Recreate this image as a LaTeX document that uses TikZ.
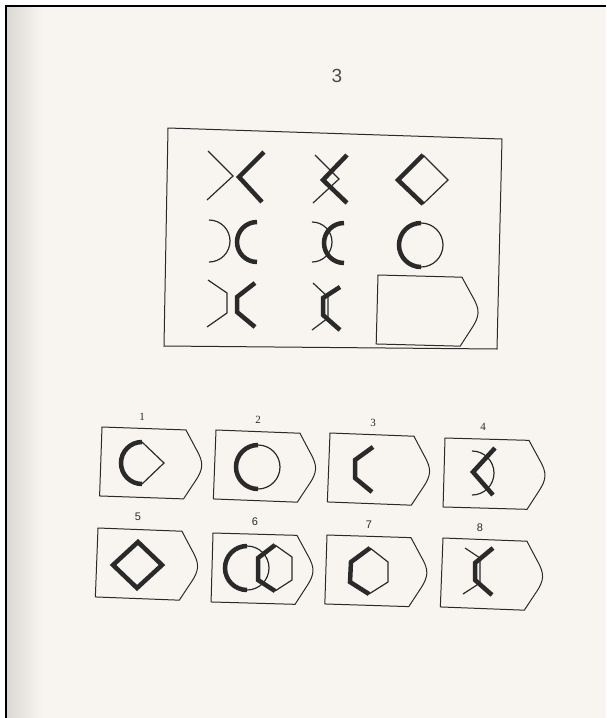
\documentclass[tikz,border=0pt]{standalone}
\usepackage{fontspec}
\setmainfont{Liberation Serif}
\setsansfont{Liberation Sans}
\usepackage{tikz}

\definecolor{paper}{HTML}{F8F5F0}
\definecolor{gutter}{HTML}{DCD9D4}
\definecolor{ink}{HTML}{2A2A2A}

\begin{document}
\begin{tikzpicture}[x=1pt, y=-1pt,
    thinline/.style={ink, line width=1.2pt, line join=miter},
    thickline/.style={ink, line width=4.5pt, line join=miter},
    framebox/.style={ink, line width=1pt},
    numlabel/.style={ink, font=\fontsize{11}{13}\selectfont},
    sanslabel/.style={ink, font=\sffamily\fontsize{11}{13}\selectfont}]
  \useasboundingbox (0,0) rectangle (606,718);

  % page
  \fill[white] (0,0) rectangle (606,718);
  \fill[paper] (7,7) rectangle (606,718);
  \shade[left color=gutter, right color=paper] (7,7) rectangle (42,718);
  \draw[black, line width=2.5pt] (6,718) -- (6,6) -- (606,6);

  \node[ink!85, font=\sffamily\fontsize{19}{22}\selectfont] (title) at (337,76) {3};

  % matrix frame
  \draw[framebox] (168,128) -- (502,139) -- (497,349) -- (164,346) -- cycle;

  % tag boxes (empty one and answers 1-8)
  \foreach \px/\py/\ang in {378/275/-1.5, 102/427/-2, 216/430/-2.2, 330/433/-2.2,
                            445/438/-1.6, 98/528/-2.2, 213/533/-1.6, 327/535/-1.8,
                            443/538/-2.2}
    \draw[framebox, shift={(\px,\py)}, rotate=\ang]
      (0,0) -- (84,0) -- (95,19) .. controls (103,32) and (103,38) .. (95,51)
      -- (84,69) -- (0,69) -- cycle;

  % row 1
  \draw[thinline] (208,151) -- (233,176) -- (207,200);
  \draw[thickline] (264,152) -- (239,177) -- (262,202);
  \draw[thinline] (315,155) -- (339,179) -- (313,203);
  \draw[thickline] (347,155) -- (323,180) -- (347,203);
  \draw[thinline] (423,155) -- (448,180) -- (423,204);
  \draw[thickline] (423,155) -- (398,180) -- (423,204);

  % row 2
  \draw[thinline] (209,220) arc[start angle=90, end angle=-90, radius=21pt];
  \draw[thickline] (257,222) arc[start angle=90, end angle=270, radius=20pt];
  \draw[thinline] (312,222) arc[start angle=90, end angle=-90, radius=20pt];
  \draw[thickline] (344,223) arc[start angle=90, end angle=270, radius=20pt];
  \draw[thinline] (421,223) arc[start angle=90, end angle=-90, radius=22pt];
  \draw[thickline] (421,223) arc[start angle=90, end angle=270, radius=22pt];

  % row 3
  \draw[thinline] (208,280) -- (227,293) -- (227,313) -- (207,327);
  \draw[thickline] (255,283) -- (237,297) -- (237,312) -- (255,327);
  \draw[thinline] (313,283) -- (328,297) -- (328,318) -- (312,330);
  \draw[thickline] (340,287) -- (323,298) -- (323,315) -- (340,330);

  % answer labels
  \foreach \n/\px/\py in {1/142/417, 2/258/420, 3/373/423, 4/483/427}
    \node[numlabel] (lab\n) at (\px,\py) {\n};
  \foreach \n/\px/\py in {5/138/517, 6/255/522, 7/369/525, 8/480/528}
    \node[sanslabel] (lab\n) at (\px,\py) {\n};

  % answer 1
  \draw[thinline] (142,442) -- (164,463) -- (142,484);
  \draw[thickline] (142,442) arc[start angle=90, end angle=270, radius=21pt];
  % answer 2
  \draw[thinline] (258,445) arc[start angle=90, end angle=-90, radius=22pt];
  \draw[thickline] (258,445) arc[start angle=90, end angle=270, radius=22pt];
  % answer 3
  \draw[thickline] (373,447) -- (355,460) -- (355,478) -- (372,492);
  % answer 4
  \draw[thinline] (472,451) arc[start angle=90, end angle=-90, radius=22pt];
  \draw[thickline] (495,448) -- (473,472) -- (493,495);
  % answer 5
  \draw[thickline] (138,542) -- (113,565) -- (137,588) -- (162,565) -- cycle;
  % answer 6
  \draw[thinline] (247,546) arc[start angle=90, end angle=-90, radius=22pt];
  \draw[thickline] (247,546) arc[start angle=90, end angle=270, radius=22pt];
  \draw[thinline] (275,545) -- (292,557) -- (292,580) -- (275,591);
  \draw[thickline] (275,545) -- (258,558) -- (258,580) -- (275,591);
  % answer 7
  \draw[thinline] (370,548) -- (388,562) -- (388,582) -- (369,594);
  \draw[thickline] (370,548) -- (351,562) -- (350,582) -- (369,594);
  % answer 8
  \draw[thinline] (465,548) -- (480,558) -- (480,583) -- (463,594);
  \draw[thickline] (493,548) -- (475,563) -- (475,580) -- (492,595);
\end{tikzpicture}
\end{document}
